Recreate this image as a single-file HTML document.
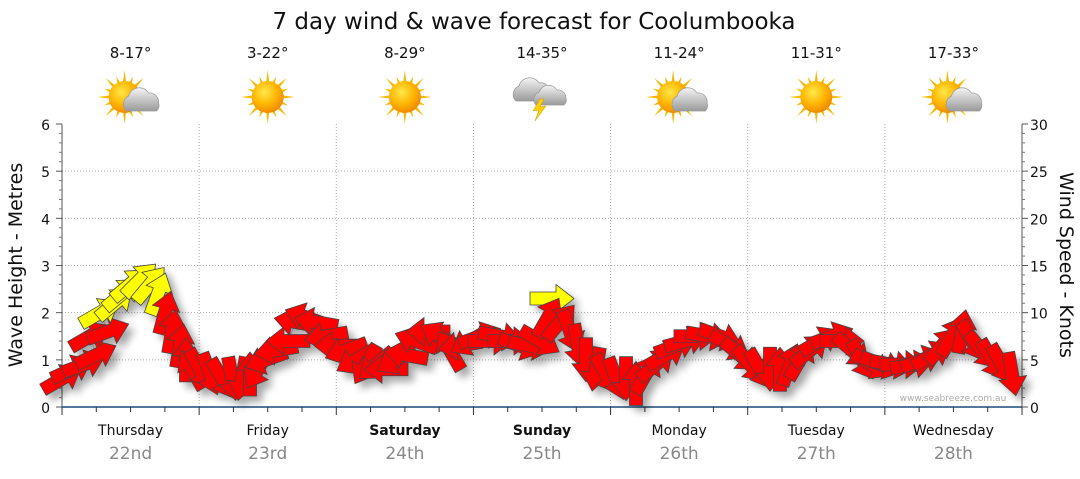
<!DOCTYPE html>
<html><head><meta charset="utf-8"><style>
body{margin:0;background:#fff;width:1080px;height:475px;overflow:hidden;font-family:"DejaVu Sans",sans-serif}
</style></head><body>
<svg id="s" width="1080" height="475" xmlns="http://www.w3.org/2000/svg" font-family="DejaVu Sans, sans-serif">
<defs>
<radialGradient id="sun" cx="40%" cy="35%" r="65%"><stop offset="0" stop-color="#ffe84a"/><stop offset="0.6" stop-color="#ffb400"/><stop offset="1" stop-color="#f08a00"/></radialGradient>
<linearGradient id="cl" x1="0" y1="0" x2="0" y2="1"><stop offset="0" stop-color="#f4f4f4"/><stop offset="1" stop-color="#9a9a9a"/></linearGradient>
<filter id="sh" x="-30%" y="-30%" width="160%" height="160%"><feGaussianBlur stdDeviation="4"/></filter>
</defs>
<text x="534" y="29" font-size="23" text-anchor="middle" fill="#111">7 day wind &amp; wave forecast for Coolumbooka</text>
<g id="grid"></g>
<g id="shadow" filter="url(#sh)" opacity="0.35"></g>
<g id="arrows"></g>
<g id="icons"></g>
<text x="953" y="401" font-size="9" fill="#aaa" text-anchor="middle">www.seabreeze.com.au</text>
<text transform="translate(22,265) rotate(-90)" font-size="19" text-anchor="middle" fill="#111">Wave Height - Metres</text>
<text transform="translate(1060,265) rotate(90)" font-size="19" text-anchor="middle" fill="#111">Wind Speed - Knots</text>
</svg>
<script>
const NS="http://www.w3.org/2000/svg";
function el(p,t,a,txt){const e=document.createElementNS(NS,t);for(const k in a)e.setAttribute(k,a[k]);if(txt!==undefined)e.textContent=txt;document.getElementById(p).appendChild(e);return e;}
const L=62,R=1022,T=124,B=407,pm=(B-T)/6,dw=(R-L)/7;
for(let i=1;i<6;i++)el("grid","line",{x1:L,x2:R,y1:B-i*pm,y2:B-i*pm,stroke:"#aaa","stroke-dasharray":"1,2"});
for(let d=1;d<7;d++)el("grid","line",{x1:L+d*dw,x2:L+d*dw,y1:T,y2:B,stroke:"#aaa","stroke-dasharray":"1,2"});
el("grid","line",{x1:L,x2:L,y1:T,y2:B,stroke:"#555"});
el("grid","line",{x1:R,x2:R,y1:T,y2:B,stroke:"#555"});
el("grid","line",{x1:L,x2:R,y1:B,y2:B,stroke:"#1a4a7a","stroke-width":1.5});
for(let i=0;i<=6;i++){const y=B-i*pm;
 el("grid","text",{x:50,y:y+6,"font-size":14,"text-anchor":"end",fill:"#111"},i);
 el("grid","text",{x:1030,y:y+6,"font-size":14,fill:"#111"},i*5);
 el("grid","line",{x1:L-6,x2:L,y1:y,y2:y,stroke:"#555"});
 el("grid","line",{x1:R,x2:R+6,y1:y,y2:y,stroke:"#555"});
 if(i<6)for(let j=1;j<5;j++){const yy=y-j*pm/5;el("grid","line",{x1:L-3,x2:L,y1:yy,y2:yy,stroke:"#777"});el("grid","line",{x1:R,x2:R+3,y1:yy,y2:yy,stroke:"#777"});}
}
for(let k=0;k<=28;k++){const x=L+k*dw/4;el("grid","line",{x1:x,x2:x,y1:B,y2:B+(k%4==0?8:5),stroke:"#333"});}
const days=[["Thursday","22nd"],["Friday","23rd"],["Saturday","24th",1],["Sunday","25th",1],["Monday","26th"],["Tuesday","27th"],["Wednesday","28th"]];
const temps=["8-17°","3-22°","8-29°","14-35°","11-24°","11-31°","17-33°"];
const types=["pc","s","s","st","pc","s","pc"];
days.forEach((d,i)=>{const cx=L+dw*(i+0.5);
 el("grid","text",{x:cx,y:435,"font-size":14,"text-anchor":"middle",fill:"#111","font-weight":d[2]?"bold":"normal"},d[0]);
 el("grid","text",{x:cx,y:459,"font-size":17,"text-anchor":"middle",fill:"#888"},d[1]);
 el("icons","text",{x:cx,y:58,"font-size":15,"text-anchor":"middle",fill:"#111"},temps[i]);
 const t=types[i],sx=cx-(t=="pc"?6:0),sy=97;
 if(t!="st"){
  for(let r=0;r<16;r++){const a=r*Math.PI/8,l=r%2?22:27;
   const p=[[sx+Math.cos(a)*l,sy+Math.sin(a)*l],[sx+Math.cos(a+0.12)*14,sy+Math.sin(a+0.12)*14],[sx+Math.cos(a-0.12)*14,sy+Math.sin(a-0.12)*14]];
   el("icons","polygon",{points:p.map(q=>q.join(",")).join(" "),fill:"#f5b800"});}
  el("icons","circle",{cx:sx,cy:sy,r:16,fill:"url(#sun)"});
 }
 if(t=="pc"){const x=cx+12,y=sy+4;
  el("icons","path",{d:`M${x-16},${y+10} a9,9 0 0 1 2,-15 a11,11 0 0 1 20,-3 a9,9 0 0 1 10,10 a7,7 0 0 1 -2,8 z`,fill:"url(#cl)",stroke:"#999","stroke-width":0.7});}
 if(t=="st"){const x=cx,y=sy-6;
  el("icons","path",{d:`M${x-26},${y+10} a9,9 0 0 1 3,-15 a11,11 0 0 1 20,-3 a8,8 0 0 1 10,8 a6,6 0 0 1 -2,10 z`,fill:"url(#cl)",stroke:"#999","stroke-width":0.7});
  el("icons","path",{d:`M${x-6},${y+14} a8,8 0 0 1 3,-13 a10,10 0 0 1 18,-2 a8,8 0 0 1 9,8 a6,6 0 0 1 -2,7 z`,fill:"url(#cl)",stroke:"#999","stroke-width":0.7});
  el("icons","polygon",{points:`${x-2},${y+8} ${x-9},${y+20} ${x-3},${y+19} ${x-7},${y+30} ${x+4},${y+15} ${x-2},${y+16} ${x+2},${y+8}`,fill:"#ffd000",stroke:"#c90","stroke-width":0.5});}
});
const Y="#ffff00";
const pts=[
[62,0.6,-30],[72,0.8,-25],[84,0.9,-20],[96,1.1,-25],[90,1.5,-30],[108,1.6,-20],[100,2.0,-30,Y],[115,2.2,-40,Y],[122,2.4,-40,Y],[130,2.6,-40,Y],[140,2.7,-45,Y],[150,2.6,-50,Y],[158,2.4,-70,Y],
[165,2.0,-75],[172,1.6,-80],[180,1.3,-80],[186,1.0,-90],[192,0.8,-120],[200,0.8,60],[210,0.7,70],[222,0.6,60],[232,0.6,80],[242,0.6,100],[250,0.7,-90],[258,0.8,120],
[266,1.0,160],[276,1.2,170],[288,1.4,180],[296,1.8,190],[306,1.9,200],[316,1.8,190],[326,1.5,170],[336,1.3,180],[346,1.2,160],[356,1.0,150],[366,0.9,120],[376,0.9,140],
[386,0.8,180],[396,1.0,150],[406,1.1,190],[416,1.4,200],[428,1.6,180],[440,1.5,-150],[450,1.2,-120],[460,1.3,170],[470,1.4,150],[480,1.5,-20],[490,1.4,0],[500,1.5,10],
[510,1.4,0],[520,1.3,20],[530,1.3,10],[540,1.4,30],[552,2.3,0,Y],[548,1.9,-60],[560,1.8,-50],[570,1.6,70],[578,1.3,80],[586,1.0,90],[596,0.8,100],[606,0.7,60],
[616,0.6,70],[626,0.6,90],[636,0.5,-90],[646,0.7,-60],[656,0.9,-40],[666,1.1,-30],[676,1.3,-20],[686,1.4,-15],[696,1.5,0],[708,1.5,10],[720,1.5,20],[730,1.3,30],
[740,1.1,40],[750,0.9,50],[760,0.8,60],[770,0.8,90],[780,0.8,-90],[790,0.9,-70],[800,1.0,-60],[810,1.2,-40],[820,1.4,-30],[832,1.5,-20],[842,1.4,0],[852,1.2,40],
[862,1.0,60],[872,0.9,30],[882,0.9,20],[892,0.9,10],[902,0.9,0],[912,0.9,-10],[922,1.0,-20],[932,1.1,-30],[942,1.3,-50],[952,1.5,-60],[962,1.6,-80],[972,1.4,60],
[982,1.2,50],[992,1.0,60],[1002,0.9,60],[1012,0.7,80]];
function arrow(g,x,y,a,c,off){
 const p="-22,-6.5 4,-6.5 4,-14 22,0 4,14 4,6.5 -22,6.5";
 el(g,"polygon",{points:p,transform:`translate(${x+off},${y+off}) rotate(${a})`,fill:c,stroke:c=="#000"?"none":"#444","stroke-width":0.8});
}
el("arrows","polyline",{points:pts.map(p=>`${p[0]},${B-p[1]*pm}`).join(" "),fill:"none",stroke:"#888","stroke-width":1});
pts.forEach(p=>arrow("shadow",p[0],B-p[1]*pm,p[2],"#000",6));
pts.forEach(p=>arrow("arrows",p[0],B-p[1]*pm,p[2],p[3]||"#ff0000",0));
</script>
</body></html>
